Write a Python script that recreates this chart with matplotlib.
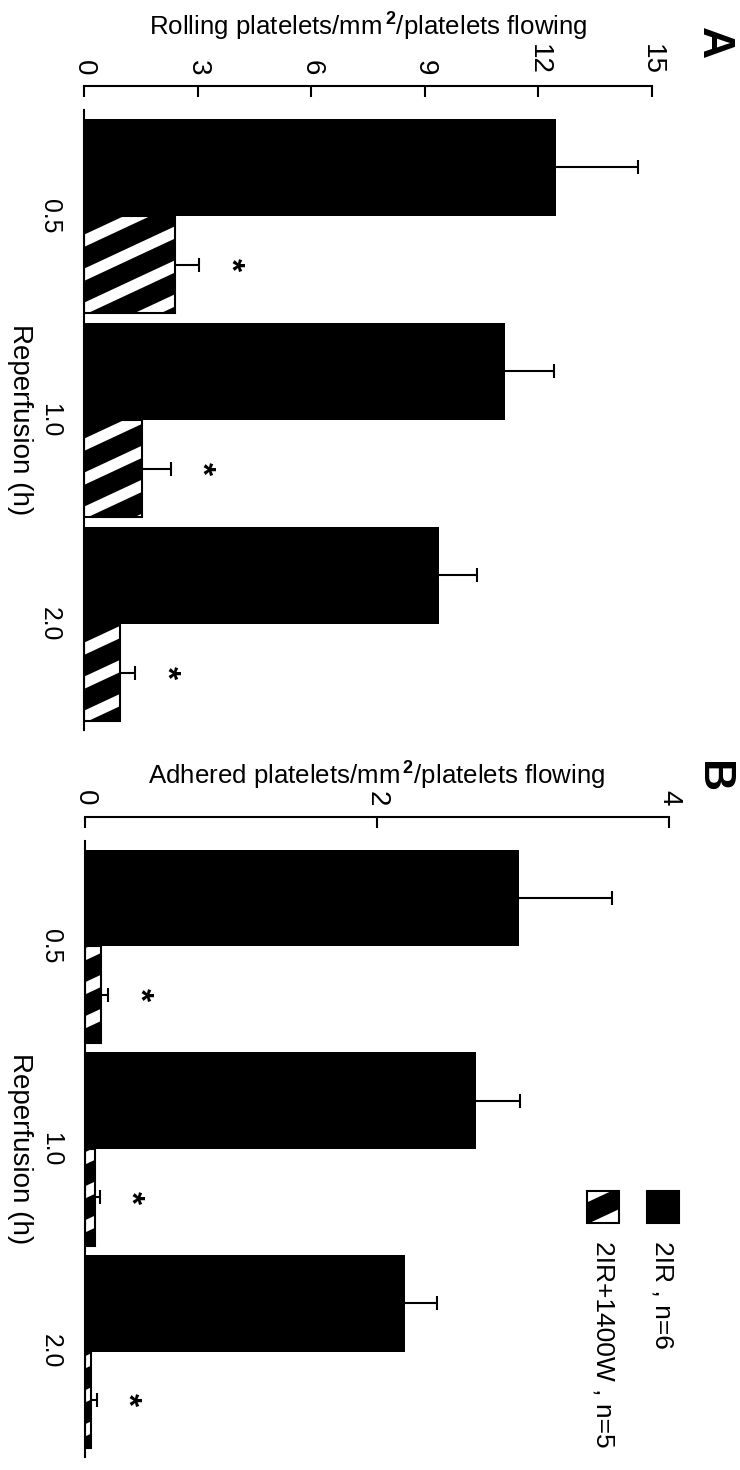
import matplotlib
matplotlib.use("Agg")
import matplotlib.pyplot as plt
import numpy as np
from matplotlib.collections import LineCollection
from matplotlib.patches import Rectangle
from matplotlib.transforms import IdentityTransform

plt.rcParams['font.family'] = ['Liberation Sans', 'DejaVu Sans']
plt.rcParams['mathtext.fontset'] = 'custom'
plt.rcParams['mathtext.rm'] = 'Liberation Sans'
plt.rcParams['mathtext.bf'] = 'Liberation Sans:bold'

reperfusion = ['0.5', '1.0', '2.0']
groups = ['2IR , n=6', '2IR+1400W , n=5']

# rolling platelets (panel A)
rolling_ir = [12.46, 11.12, 9.37]
rolling_ir_sem = [2.17, 1.28, 1.01]
rolling_1400w = [2.39, 1.54, 0.94]
rolling_1400w_sem = [0.65, 0.75, 0.41]

# adhered platelets (panel B)
adhered_ir = [2.97, 2.68, 2.19]
adhered_ir_sem = [0.64, 0.30, 0.22]
adhered_1400w = [0.11, 0.07, 0.04]
adhered_1400w_sem = [0.05, 0.03, 0.04]

DPI = 200
W, H = 740, 1470
BAR_H = 0.477
LW = 0.75


def stripe(ax, patch, spacing=34, angle=25, width=4.0):
    # white diagonal stripes, laid out in pixels and clipped to the patch
    bb = patch.get_window_extent()
    t = np.tan(np.radians(angle))
    lo = np.floor((bb.y0 - bb.x1 * t) / spacing) * spacing
    hi = bb.y1 - bb.x0 * t
    x0, x1 = bb.x0 - 3, bb.x1 + 3
    segs = [[(x0, c + x0 * t), (x1, c + x1 * t)]
            for c in np.arange(lo, hi + spacing, spacing)]
    lc = LineCollection(segs, colors='white', linewidths=width,
                        transform=IdentityTransform(),
                        zorder=patch.get_zorder() + 0.1)
    ax.add_collection(lc, autolim=False)
    lc.set_clip_path(patch)


def panel(ax, ctrl, ctrl_err, treat, treat_err, xmax, step, xlabel,
          label_y):
    y = np.arange(len(reperfusion))
    ctrl = np.array(ctrl)
    treat = np.array(treat)

    ax.barh(y - BAR_H / 2, ctrl, height=BAR_H, color='black',
            linewidth=0, zorder=1)
    hatched = ax.barh(y + BAR_H / 2, treat, height=BAR_H, color='black',
                      linewidth=0, zorder=1)
    ax.barh(y + BAR_H / 2, treat, height=BAR_H, fill=False,
            edgecolor='black', linewidth=LW, zorder=3)

    for vals, errs, pos in [(ctrl, ctrl_err, y - BAR_H / 2),
                            (treat, treat_err, y + BAR_H / 2)]:
        eb = ax.errorbar(vals, pos, xerr=[np.zeros(len(vals)), errs],
                         fmt='none', ecolor='black', elinewidth=LW,
                         capsize=2.4, capthick=LW, zorder=4)
        for cl in eb[1]:
            if np.allclose(cl.get_xdata(), vals):
                cl.set_visible(False)

    # significance marks next to the treated bars
    for v, e, p in zip(treat, treat_err, y + BAR_H / 2):
        ax.annotate('*', xy=(v + e, p), xytext=(11, 0),
                    textcoords='offset points', rotation=-90,
                    ha='center', va='center', fontsize=12,
                    fontweight='bold', annotation_clip=False)

    ax.set_xlim(0, xmax)
    ax.set_ylim(2.52, -0.52)

    ax.xaxis.tick_top()
    ticks = np.arange(0, xmax + 0.01, step)
    ax.set_xticks(ticks)
    ax.set_xticklabels([f'{v:g}' for v in ticks], fontsize=8.9)
    ax.tick_params(axis='x', direction='in', length=4, width=LW, pad=4,
                   labelrotation=-90)
    ax.set_yticks(y)
    ax.set_yticklabels(reperfusion, va='center', fontsize=8.9)
    ax.tick_params(axis='y', length=0, pad=8, labelrotation=-90)

    for side in ['right', 'bottom']:
        ax.spines[side].set_visible(False)
    ax.spines['top'].set_position(('outward', 8.6))
    ax.spines['top'].set_bounds(0, xmax)
    ax.spines['top'].set_linewidth(LW)
    ax.spines['left'].set_linewidth(LW)

    ax.xaxis.set_label_position('top')
    ax.set_xlabel(xlabel, fontsize=9.3)
    ax.xaxis.set_label_coords(0.5, label_y)
    ax.xaxis.label.set_va('center')

    ax.set_ylabel('Reperfusion (h)', rotation=-90, fontsize=10)
    ax.yaxis.set_label_coords(-0.112, 0.5)
    ax.yaxis.label.set(ha='center', va='center')

    for bar in hatched.patches:
        stripe(ax, bar)


fig = plt.figure(figsize=(W / DPI, H / DPI), dpi=DPI)
ax_a = fig.add_axes([84 / W, 1 - 730 / H, 568 / W, 620 / H])
ax_b = fig.add_axes([85 / W, 1 - 1457 / H, 584 / W, 616 / H])

panel(ax_a, rolling_ir, rolling_ir_sem, rolling_1400w, rolling_1400w_sem,
      15, 3, r'Rolling platelets/mm$^{\,\mathbf{2}}$/platelets flowing',
      1.137)
panel(ax_b, adhered_ir, adhered_ir_sem, adhered_1400w, adhered_1400w_sem,
      4, 2, r'Adhered platelets/mm$^{\,\mathbf{2}}$/platelets flowing',
      1.108)

# legend, drawn by hand so that it can sit rotated like the rest
sq_w, sq_h = 0.055, 0.052
black_sq = Rectangle((0.962, 0.380), sq_w, sq_h, transform=ax_b.transAxes,
                     facecolor='black', edgecolor='black', linewidth=LW,
                     clip_on=False, zorder=2)
hatch_sq = Rectangle((0.860, 0.380), sq_w, sq_h, transform=ax_b.transAxes,
                     facecolor='black', edgecolor='black', linewidth=0,
                     clip_on=False, zorder=2)
ax_b.add_patch(black_sq)
ax_b.add_patch(hatch_sq)
stripe(ax_b, hatch_sq)
ax_b.add_patch(Rectangle((0.860, 0.380), sq_w, sq_h,
                         transform=ax_b.transAxes, fill=False,
                         edgecolor='black', linewidth=LW, clip_on=False,
                         zorder=3))
for x, txt in zip([0.962 + sq_w / 2, 0.860 + sq_w / 2], groups):
    ax_b.text(x, 0.350, txt, transform=ax_b.transAxes, rotation=-90,
              ha='center', va='top', fontsize=9.5, clip_on=False)

fig.text(713 / W, 1 - 43 / H, 'A', rotation=-90, fontsize=16,
         fontweight='bold', ha='center', va='center')
fig.text(713 / W, 1 - 777 / H, 'B', rotation=-90, fontsize=16,
         fontweight='bold', ha='center', va='center')

fig.savefig('out.png', dpi=DPI, facecolor='white')
